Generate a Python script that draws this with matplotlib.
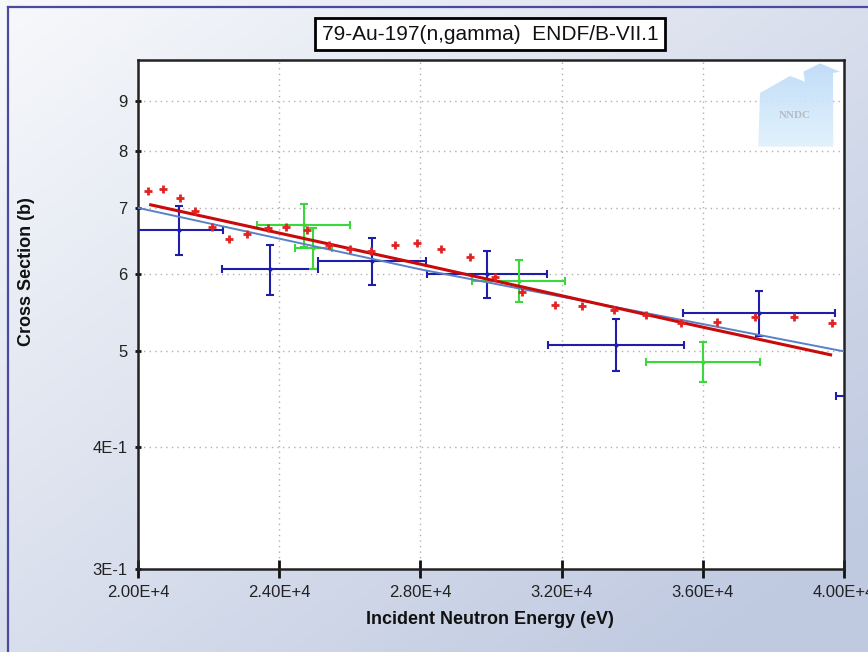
import numpy as np
import matplotlib
matplotlib.use("Agg")
import matplotlib.pyplot as plt
from matplotlib.lines import Line2D
from matplotlib.patches import Polygon

plt.rcParams['font.family'] = ['Liberation Sans', 'DejaVu Sans']

# -------------------------
# data
# -------------------------
title = "79-Au-197(n,gamma)  ENDF/B-VII.1"

# evaluation curves (eV, barns)
endf_e = [20360, 27420, 35920, 39620]
endf_v = [0.705, 0.620, 0.530, 0.496]
other_e = [20000, 28000, 40000]
other_v = [0.700, 0.606, 0.500]

# red "+" points
pts_e = [20290, 20700, 21190, 21615, 22100, 22590, 23090, 23670, 24180, 24800,
         25420, 26010, 26590, 27280, 27900, 28590, 29410, 30100, 30890, 31810,
         32590, 33490, 34390, 35380, 36400, 37480, 38570, 39670]
pts_v = [0.729, 0.732, 0.717, 0.695, 0.670, 0.651, 0.659, 0.668, 0.670, 0.665,
         0.641, 0.635, 0.632, 0.641, 0.645, 0.635, 0.624, 0.595, 0.575, 0.557,
         0.556, 0.551, 0.545, 0.535, 0.536, 0.542, 0.542, 0.534]

# blue data set with errors
blue_e = [21160, 23740, 26620, 29900, 33530, 37590, 42100]
blue_de = [1240, 1370, 1535, 1700, 1925, 2160, 2330]
blue_v = [0.665, 0.606, 0.618, 0.600, 0.508, 0.547, 0.450]
blue_dv = [0.038, 0.035, 0.034, 0.033, 0.031, 0.029, 0.028]

# green data set with errors
green_e = [24700, 24970, 30780, 36010]
green_de = [1315, 530, 1310, 1620]
green_v = [0.672, 0.637, 0.590, 0.488]
green_dv = [0.034, 0.031, 0.029, 0.023]

xticks = [20000, 24000, 28000, 32000, 36000, 40000]
xlabels = ["2.00E+4", "2.40E+4", "2.80E+4", "3.20E+4", "3.60E+4", "4.00E+4"]
yticks = [0.3, 0.4, 0.5, 0.6, 0.7, 0.8, 0.9]
ylabels = ["3E-1", "4E-1", "5", "6", "7", "8", "9"]

W, H = 868, 652
fig = plt.figure(figsize=(W / 100, H / 100), dpi=100)

# background gradient
bg = fig.add_axes([0, 0, 1, 1], zorder=-10)
gx, gy = np.meshgrid(np.linspace(0, 1, 200), np.linspace(0, 1, 200))
t = np.clip(0.55 * gx + 0.55 * gy, 0, 1)
c0 = np.array([0.970, 0.975, 0.985])
c1 = np.array([0.75, 0.79, 0.88])
img = c0[None, None, :] * (1 - t[..., None]) + c1[None, None, :] * t[..., None]
bg.imshow(img, extent=[0, 1, 0, 1], aspect='auto', origin='upper')
bg.axis('off')

# frame lines (left and top)
fig.add_artist(Line2D([8 / W, 8 / W], [0, 1 - 7 / H], color='#4a4a9e', lw=1.6))
fig.add_artist(Line2D([8 / W, 1], [1 - 7 / H, 1 - 7 / H], color='#4a4a9e', lw=1.6))

# main axes
left, right, top, bottom = 138, 844, 60, 569.3
ax = fig.add_axes([left / W, 1 - bottom / H, (right - left) / W, (bottom - top) / H])
ax.set_facecolor('white')
ax.set_yscale('log')
ax.set_xlim(20000, 40000)
ax.set_ylim(0.3, 0.99)

ax.set_xticks(xticks)
ax.set_xticklabels(xlabels)
ax.set_yticks(yticks)
ax.set_yticklabels(ylabels)
ax.yaxis.set_minor_locator(matplotlib.ticker.NullLocator())
ax.tick_params(axis='x', direction='inout', length=13, width=2, labelsize=12, pad=5,
               color='#111111', labelcolor='#222222')
ax.tick_params(axis='y', direction='inout', length=5, width=2, labelsize=12, pad=5,
               color='#111111', labelcolor='#222222')
for s in ax.spines.values():
    s.set_linewidth(1.8)
    s.set_color('#222222')

# dotted grid (not on the axis edges)
for xv in xticks[1:-1]:
    ax.axvline(xv, color='#b0b0b0', lw=1.0, ls=(0, (1, 3)), zorder=1)
for yv in yticks[1:]:
    ax.axhline(yv, color='#b0b0b0', lw=1.0, ls=(0, (1, 3)), zorder=1)

# NNDC logo (faint house with gradient)
house = [(0.8786, 0.8298), (0.881, 0.9352), (0.9235, 0.9686), (0.9448, 0.9574),
         (0.9424, 0.977), (0.966, 0.9935), (0.9943, 0.977), (0.9844, 0.9745),
         (0.9848, 0.8298)]
poly = Polygon(house, closed=True, transform=ax.transAxes, fc='none', ec='none')
ax.add_patch(poly)
lg = np.linspace(0, 1, 64)[:, None, None]
top_c = np.array([0.73, 0.85, 0.97])
bot_c = np.array([0.88, 0.95, 0.99])
logo_img = top_c * (1 - lg) + bot_c * lg
logo_img = np.repeat(logo_img, 4, axis=1)
im = ax.imshow(logo_img, extent=[0.87, 1.0, 0.82, 1.0], transform=ax.transAxes,
               aspect='auto', origin='upper', zorder=1.5, alpha=0.9)
im.set_clip_path(poly)
ax.text(0.931, 0.892, "NNDC", transform=ax.transAxes, ha='center', va='center',
        fontsize=8, family='Liberation Serif', fontweight='bold', color='#b4bcc4', zorder=1.6)
ax.set_xlim(20000, 40000)
ax.set_ylim(0.3, 0.99)

# experimental data
ax.errorbar(blue_e, blue_v, xerr=blue_de, yerr=blue_dv, fmt='o', ms=2,
            color='#1e1ea8', ecolor='#1e1ea8', elinewidth=1.5, capsize=3, capthick=1.5, zorder=3)
ax.errorbar(green_e, green_v, xerr=green_de, yerr=green_dv, fmt='o', ms=2,
            color='#3ad83a', ecolor='#3ad83a', elinewidth=1.5, capsize=3, capthick=1.5, zorder=3)

# evaluations
ax.plot(other_e, other_v, color='#5b80c6', lw=1.4, zorder=4)
ax.plot(endf_e, endf_v, color='#c80a0a', lw=2.2, zorder=5)
ax.plot(pts_e, pts_v, ls='none', marker='+', ms=6, mew=2, color='#e02424', zorder=6)

# text
fig.text(490 / W, 1 - 34 / H, title, ha='center', va='center', fontsize=15,
         color='#111111',
         bbox=dict(boxstyle='square,pad=0.3', fc='white', ec='black', lw=2))
fig.text(490 / W, 1 - 620 / H, "Incident Neutron Energy (eV)", ha='center', va='center',
         fontsize=13, fontweight='bold', color='#111111')
fig.text(27 / W, 1 - 272 / H, "Cross Section (b)", ha='center', va='center',
         fontsize=13, fontweight='bold', rotation=90, color='#111111')

fig.savefig("out.png", dpi=100)
